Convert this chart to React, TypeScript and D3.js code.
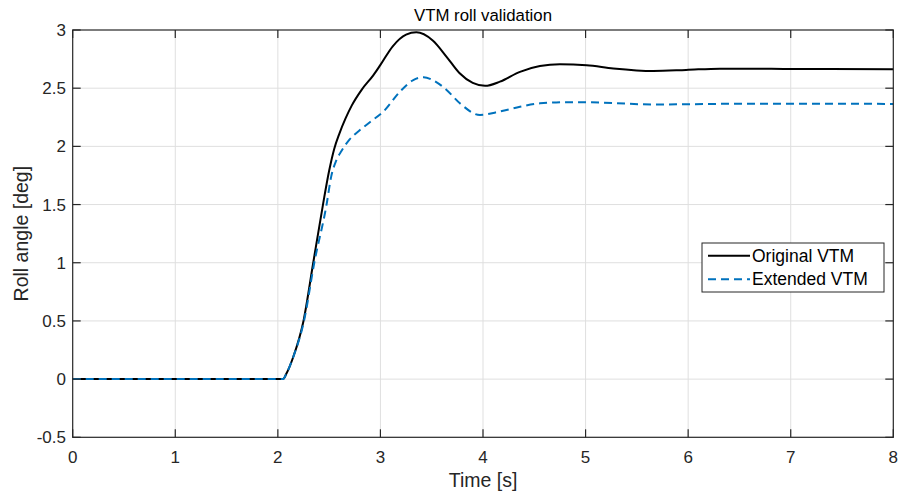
import React from "react";
import * as d3 from "d3";

const timeOriginal = [0, 2.0, 2.05, 2.085, 2.15, 2.25, 2.345, 2.44, 2.5, 2.55, 2.6, 2.66, 2.72, 2.82, 2.93, 3.0, 3.12, 3.25, 3.35, 3.51, 3.645, 3.77, 3.9, 4.02, 4.165, 4.36, 4.555, 4.75, 5.01, 5.27, 5.66, 5.98, 6.31, 6.63, 6.96, 8];
const rollOriginal = [0, 0, 0, 0.05, 0.19, 0.5, 1.0, 1.5, 1.79, 1.98, 2.11, 2.24, 2.35, 2.49, 2.61, 2.7, 2.86, 2.96, 2.98, 2.91, 2.77, 2.63, 2.545, 2.52, 2.556, 2.64, 2.69, 2.705, 2.697, 2.67, 2.648, 2.657, 2.668, 2.668, 2.665, 2.663];

const timeExtended = [0, 2.0, 2.05, 2.085, 2.15, 2.255, 2.355, 2.475, 2.52, 2.57, 2.62, 2.7, 2.8, 2.9, 3.03, 3.19, 3.32, 3.42, 3.51, 3.645, 3.775, 3.97, 4.165, 4.36, 4.555, 4.85, 5.17, 5.66, 5.98, 6.63, 8];
const rollExtended = [0, 0, 0, 0.05, 0.19, 0.5, 1.0, 1.5, 1.74, 1.88, 1.96, 2.06, 2.14, 2.21, 2.3, 2.47, 2.57, 2.594, 2.57, 2.485, 2.37, 2.27, 2.3, 2.34, 2.37, 2.38, 2.376, 2.36, 2.362, 2.367, 2.365];

const xTicks = [0, 1, 2, 3, 4, 5, 6, 7, 8];
const yTicks = [-0.5, 0, 0.5, 1, 1.5, 2, 2.5, 3];
const seriesNames = ["Original VTM", "Extended VTM"];
const titleText = "VTM roll validation";
const xLabel = "Time [s]";
const yLabel = "Roll angle [deg]";

export default function App() {
  const W = 898, H = 494;
  const left = 72.7, right = 893.3, top = 30, bottom = 437.3;
  const x = d3.scaleLinear().domain([0, 8]).range([left, right]);
  const y = d3.scaleLinear().domain([-0.5, 3]).range([bottom, top]);
  const line = d3.line<[number, number]>().x(d => x(d[0])).y(d => y(d[1])).curve(d3.curveMonotoneX);
  const orig = line(timeOriginal.map((t, i) => [t, rollOriginal[i]] as [number, number])) || "";
  const ext = line(timeExtended.map((t, i) => [t, rollExtended[i]] as [number, number])) || "";
  const axisColor = "#262626";
  const gridColor = "#dfdfdf";
  const font = "'Liberation Sans', Arial, Helvetica, sans-serif";
  const tickLen = 8;
  const tickFont = 17;
  const lgX = 702, lgY = 243, lgW = 182, lgH = 49;
  return (
    <svg width={W} height={H} style={{ position: "absolute", left: 0, top: 0, background: "#fff" }} fontFamily={font}>
      <rect x={0} y={0} width={W} height={H} fill="#fff" />
      <g>
        {xTicks.slice(1, -1).map(t => (
          <line key={"gx" + t} x1={x(t)} x2={x(t)} y1={top} y2={bottom} stroke={gridColor} strokeWidth={1} />
        ))}
        {yTicks.slice(1, -1).map(t => (
          <line key={"gy" + t} x1={left} x2={right} y1={y(t)} y2={y(t)} stroke={gridColor} strokeWidth={1} />
        ))}
      </g>
      <path d={orig} fill="none" stroke="#000" strokeWidth={2} />
      <path d={ext} fill="none" stroke="#0072BD" strokeWidth={2} strokeDasharray="8,5" />
      <rect x={left} y={top} width={right - left} height={bottom - top} fill="none" stroke={axisColor} strokeWidth={1.2} />
      {xTicks.map(t => (
        <g key={"tx" + t}>
          <line x1={x(t)} x2={x(t)} y1={bottom} y2={bottom - tickLen} stroke={axisColor} strokeWidth={1.2} />
          <line x1={x(t)} x2={x(t)} y1={top} y2={top + tickLen} stroke={axisColor} strokeWidth={1.2} />
          <text x={x(t)} y={463} textAnchor="middle" fontSize={tickFont} fill={axisColor}>{t}</text>
        </g>
      ))}
      {yTicks.map(t => (
        <g key={"ty" + t}>
          <line x1={left} x2={left + tickLen} y1={y(t)} y2={y(t)} stroke={axisColor} strokeWidth={1.2} />
          <text x={66} y={y(t) + 6} textAnchor="end" fontSize={tickFont} fill={axisColor}>{t}</text>
          <line x1={right} x2={right - tickLen} y1={y(t)} y2={y(t)} stroke={axisColor} strokeWidth={1.2} />
        </g>
      ))}
      <text x={(left + right) / 2} y={21} textAnchor="middle" fontSize={16.8} fill="#000">{titleText}</text>
      <text x={(left + right) / 2} y={486.5} textAnchor="middle" fontSize={19.5} fill={axisColor}>{xLabel}</text>
      <text transform={`translate(28, ${(top + bottom) / 2}) rotate(-90)`} textAnchor="middle" fontSize={19.5} fill={axisColor}>{yLabel}</text>
      <g>
        <rect x={lgX} y={lgY} width={lgW} height={lgH} fill="#fff" stroke={axisColor} strokeWidth={1} />
        <line x1={708} x2={750} y1={255.7} y2={255.7} stroke="#000" strokeWidth={2} />
        <text x={752} y={261.7} fontSize={17.5} fill="#000">{seriesNames[0]}</text>
        <line x1={708} x2={750} y1={279.3} y2={279.3} stroke="#0072BD" strokeWidth={2} strokeDasharray="8,5" />
        <text x={752} y={285.4} fontSize={17.5} fill="#000">{seriesNames[1]}</text>
      </g>
    </svg>
  );
}
